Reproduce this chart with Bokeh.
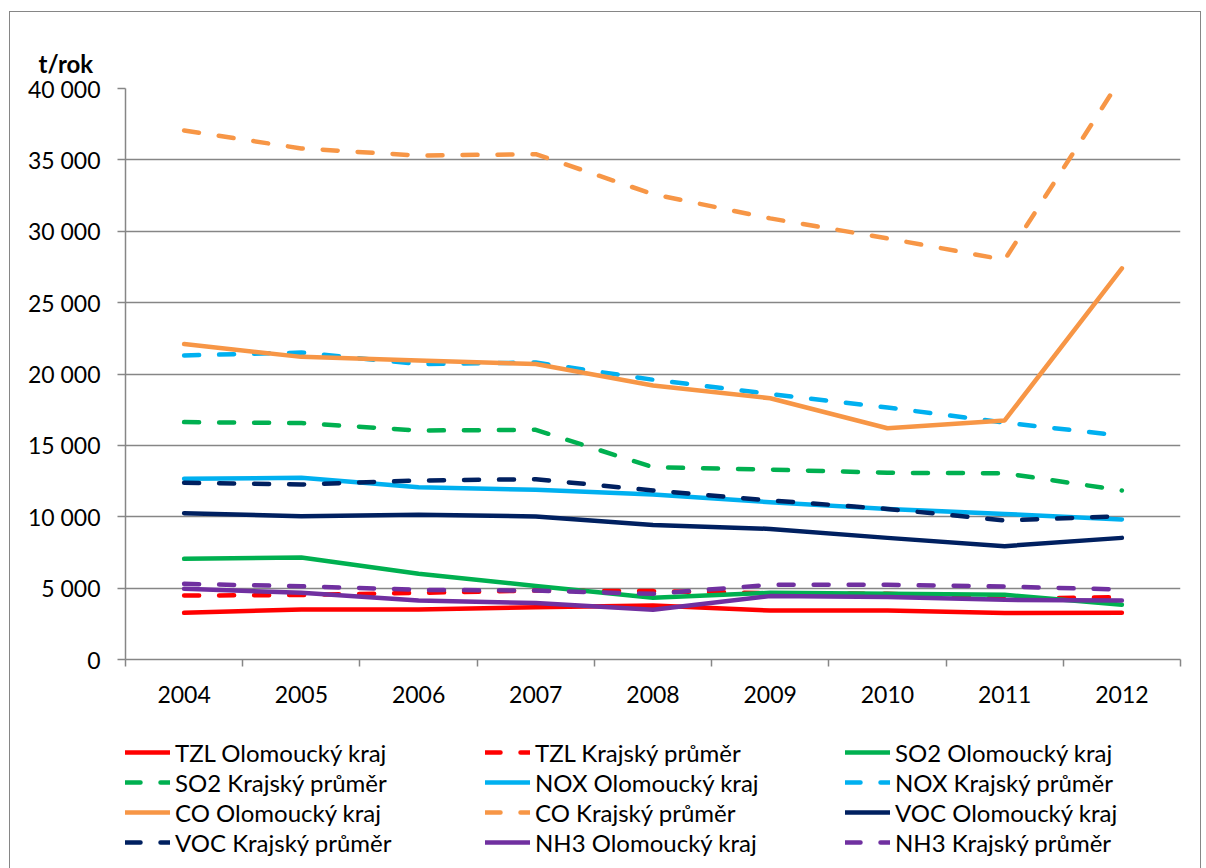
from bokeh.plotting import figure
from bokeh.layouts import column
from bokeh.models import (Legend, LegendItem, FixedTicker, Range1d)
from bokeh.embed import file_html
from bokeh.resources import INLINE

years = ["2004", "2005", "2006", "2007", "2008", "2009", "2010", "2011", "2012"]

tzl_ol = [3270, 3500, 3500, 3660, 3780, 3430, 3430, 3250, 3270]
tzl_kr = [4480, 4520, 4670, 4830, 4790, 4650, 4600, 4250, 4370]
so2_ol = [7050, 7150, 6000, 5150, 4320, 4670, 4600, 4530, 3830]
so2_kr = [16630, 16560, 16040, 16090, 13470, 13300, 13080, 13050, 11840]
nox_ol = [12660, 12730, 12070, 11890, 11560, 11020, 10550, 10200, 9810]
nox_kr = [21300, 21500, 20700, 20800, 19600, 18600, 17650, 16600, 15670]
co_ol = [22100, 21200, 20950, 20700, 19200, 18300, 16200, 16750, 27400]
co_kr = [37060, 35800, 35300, 35400, 32600, 30900, 29500, 28000, 40800]
voc_ol = [10250, 10040, 10140, 10020, 9430, 9150, 8520, 7940, 8520]
voc_kr = [12380, 12260, 12540, 12630, 11840, 11140, 10550, 9740, 10040]
nh3_ol = [4950, 4670, 4130, 3950, 3480, 4440, 4370, 4180, 4130]
nh3_kr = [5300, 5130, 4880, 4830, 4600, 5230, 5230, 5110, 4900]

y_ticks = [0, 5000, 10000, 15000, 20000, 25000, 30000, 35000, 40000]
y_labels = ["0", "5 000", "10 000", "15 000", "20 000", "25 000", "30 000", "35 000", "40 000"]

series = [
    ("TZL Olomoucký kraj", tzl_ol, "#FF0000", "solid"),
    ("TZL Krajský průměr", tzl_kr, "#FF0000", "dashed"),
    ("SO2 Olomoucký kraj", so2_ol, "#00B050", "solid"),
    ("SO2 Krajský průměr", so2_kr, "#00B050", "dashed"),
    ("NOX Olomoucký kraj", nox_ol, "#00B0F0", "solid"),
    ("NOX Krajský průměr", nox_kr, "#00B0F0", "dashed"),
    ("CO Olomoucký kraj", co_ol, "#F79646", "solid"),
    ("CO Krajský průměr", co_kr, "#F79646", "dashed"),
    ("VOC Olomoucký kraj", voc_ol, "#002060", "solid"),
    ("VOC Krajský průměr", voc_kr, "#002060", "dashed"),
    ("NH3 Olomoucký kraj", nh3_ol, "#7030A0", "solid"),
    ("NH3 Krajský průměr", nh3_kr, "#7030A0", "dashed"),
]

FONT = "Lato"
LW = 4.5
DASH = "15 20"
xs = [i + 0.5 for i in range(len(years))]

p = figure(width=1190, height=725, output_backend="svg", toolbar_location=None,
           x_range=Range1d(0, len(years)), y_range=Range1d(0, 40000),
           min_border_left=115, min_border_top=76, min_border_right=20,
           min_border_bottom=78)
p.outline_line_color = None
p.background_fill_color = "white"
p.border_fill_color = "white"

for name, vals, color, dash in series:
    kw = dict(line_color=color, line_width=LW, line_join="round", line_cap="round")
    if dash == "dashed":
        kw["line_dash"] = DASH
    p.line(xs, vals, **kw)

# "t/rok" as title above the axis
p.title.text = "t/rok"
p.title.align = "left"
p.title.offset = -87
p.title.standoff = 22
p.title.text_font = FONT
p.title.text_font_size = "24px"
p.title.text_font_style = "bold"
p.title.text_color = "black"

# y axis
p.yaxis.ticker = FixedTicker(ticks=y_ticks)
p.yaxis.major_label_overrides = {t: l for t, l in zip(y_ticks, y_labels)}
p.yaxis.axis_line_color = "#868686"
p.yaxis.axis_line_width = 1.5
p.yaxis.major_tick_line_color = "#868686"
p.yaxis.major_tick_line_width = 1.5
p.yaxis.major_tick_out = 8
p.yaxis.major_tick_in = 0
p.yaxis.minor_tick_line_color = None
p.yaxis.major_label_text_font = FONT
p.yaxis.major_label_text_font_size = "23px"
p.yaxis.major_label_text_color = "black"
p.yaxis.major_label_standoff = 17

# x axis: labels at centers, tick marks at boundaries
p.xaxis.ticker = FixedTicker(ticks=xs, minor_ticks=list(range(len(years) + 1)))
p.xaxis.major_label_overrides = {x: y for x, y in zip(xs, years)}
p.xaxis.axis_line_color = "#868686"
p.xaxis.axis_line_width = 1.5
p.xaxis.major_tick_line_color = None
p.xaxis.major_tick_out = 0
p.xaxis.major_tick_in = 0
p.xaxis.minor_tick_line_color = "#868686"
p.xaxis.minor_tick_line_width = 1.5
p.xaxis.minor_tick_out = 7
p.xaxis.minor_tick_in = 0
p.xaxis.major_label_text_font = FONT
p.xaxis.major_label_text_font_size = "23px"
p.xaxis.major_label_text_color = "black"
p.xaxis.major_label_standoff = 19

p.xgrid.grid_line_color = None
p.ygrid.ticker = FixedTicker(ticks=y_ticks)
p.ygrid.grid_line_color = "#868686"
p.ygrid.grid_line_width = 1.5

# legend figure underneath (series drawn out of its visible range; only the legend shows)
lg = figure(width=1190, height=132, output_backend="svg", toolbar_location=None,
            x_range=Range1d(0, len(years)), y_range=Range1d(-3, -2),
            min_border_left=115, min_border_top=0, min_border_right=0, min_border_bottom=0)
lg.axis.visible = False
lg.grid.visible = False
lg.outline_line_color = None
lg.background_fill_color = "white"
lg.border_fill_color = "white"

items = []
for name, vals, color, dash in series:
    kw = dict(line_color=color, line_width=LW, line_join="round", line_cap="round")
    if dash == "dashed":
        kw["line_dash"] = DASH
    r = lg.line(xs, vals, **kw)
    items.append(LegendItem(label=name, renderers=[r]))

legend = Legend(items=items, ncols=3, orientation="horizontal",
                label_text_font=FONT, label_text_font_size="24px", label_text_color="black",
                glyph_width=45, glyph_height=30, label_height=30, label_width=310,
                label_standoff=5, spacing=0, padding=0, margin=0,
                border_line_color=None, background_fill_alpha=0,
                location="top_left")
lg.add_layout(legend, "center")

layout = column(p, lg, spacing=0)
layout.styles = {"border": "1px solid #868686", "margin-left": "9px", "margin-top": "11px"}

open("out.html", "w").write(file_html(layout, INLINE))
